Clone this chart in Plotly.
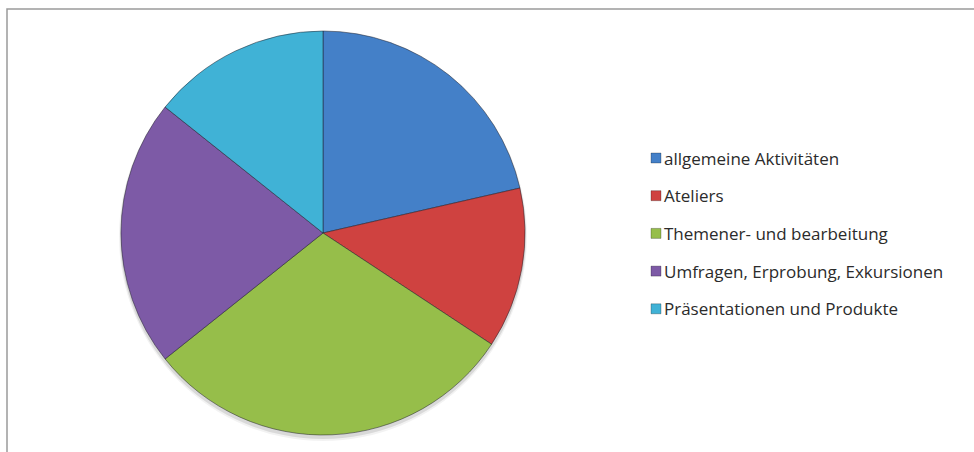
import plotly.graph_objects as go

# Category shares (counts) per activity type
categories = [
    "allgemeine Aktivitäten",
    "Ateliers",
    "Themener- und bearbeitung",
    "Umfragen, Erprobung, Exkursionen",
    "Präsentationen und Produkte",
]
counts = [15, 9, 21, 15, 10]
colors = ["#4480C8", "#CF4240", "#96BE4A", "#7D5AA6", "#40B2D6"]

W, H = 974, 452
cx, cy, r = 323, 233, 202  # pie centre and radius in pixels

def px_x(x):
    return x / W

def px_y(y):
    return 1 - y / H

fig = go.Figure()
fig.add_trace(go.Pie(
    labels=categories,
    values=counts,
    sort=False,
    direction="clockwise",
    rotation=0,
    textinfo="none",
    hoverinfo="label+value+percent",
    marker=dict(colors=colors, line=dict(color="rgba(30,30,40,0.5)", width=1)),
    domain=dict(x=[px_x(cx - r), px_x(cx + r)], y=[px_y(cy + r), px_y(cy - r)]),
    showlegend=False,
))

shapes = [
    # chart frame
    dict(type="rect", xref="paper", yref="paper",
         x0=px_x(7), x1=1.02, y0=-0.02, y1=px_y(9),
         line=dict(color="#9a9a9a", width=1.5), fillcolor="rgba(0,0,0,0)", layer="below"),
    # soft drop shadow under the pie
    dict(type="circle", xref="paper", yref="paper",
         x0=px_x(cx - r - 1), x1=px_x(cx + r + 1), y0=px_y(cy + r + 4), y1=px_y(cy - r + 2),
         line=dict(width=0), fillcolor="rgba(0,0,0,0.10)", layer="below"),
    dict(type="circle", xref="paper", yref="paper",
         x0=px_x(cx - r - 2), x1=px_x(cx + r + 2), y0=px_y(cy + r + 6), y1=px_y(cy - r + 1),
         line=dict(width=0), fillcolor="rgba(0,0,0,0.05)", layer="below"),
]

annotations = []
legend_x, legend_y0, legend_dy, sq = 651, 158, 37.7, 10
for i, (name, col) in enumerate(zip(categories, colors)):
    yc = legend_y0 + i * legend_dy
    shapes.append(dict(type="rect", xref="paper", yref="paper",
                       x0=px_x(legend_x), x1=px_x(legend_x + sq),
                       y0=px_y(yc + sq / 2), y1=px_y(yc - sq / 2),
                       fillcolor=col, line=dict(color="rgba(0,0,0,0.25)", width=1)))
    annotations.append(dict(xref="paper", yref="paper", x=px_x(legend_x + sq + 1), y=px_y(yc),
                            xanchor="left", yanchor="middle", showarrow=False, text=name,
                            font=dict(family="Open Sans, sans-serif", size=17, color="#2b2b2b")))

fig.update_layout(
    width=W, height=H,
    margin=dict(l=0, r=0, t=0, b=0),
    paper_bgcolor="white", plot_bgcolor="white",
    shapes=shapes, annotations=annotations,
)

fig.write_html("out.html")
